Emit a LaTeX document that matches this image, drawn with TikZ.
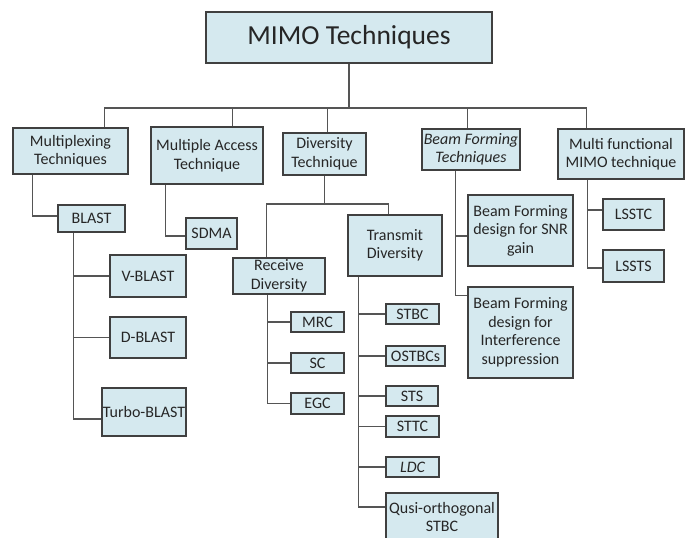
\documentclass[tikz,border=0pt]{standalone}
\usepackage{fontspec}
\setmainfont{Carlito}
\definecolor{boxfill}{HTML}{D5E9EF}
\definecolor{boxline}{HTML}{404040}
\definecolor{conn}{HTML}{555555}
\begin{document}
\begin{tikzpicture}[x=1pt,y=-1pt,
  box/.style={draw=boxline, fill=boxfill, line width=1.1pt, inner sep=0pt, align=center,
    font=\fontsize{16}{18.5}\selectfont, text=black!85},
  link/.style={draw=conn, line width=1.1pt}]
\useasboundingbox (0,0) rectangle (691,538);
% top level
\node[box, minimum width=286, minimum height=51, font=\fontsize{27.5}{30}\selectfont] (mimo) at (349,37.5) {MIMO Techniques};
\node[box, minimum width=115, minimum height=46] (mux) at (70.5,151) {Multiplexing\\Techniques};
\node[box, minimum width=112, minimum height=57] (ma) at (207,155.5) {Multiple Access\\Technique};
\node[box, minimum width=83, minimum height=42] (div) at (324.5,154) {Diversity\\Technique};
\node[box, minimum width=98, minimum height=41, font=\fontsize{16}{18.5}\selectfont\itshape] (bf) at (471,149.5) {Beam Forming\\Techniques};
\node[box, minimum width=126, minimum height=50] (mf) at (621,154) {Multi functional\\MIMO technique};
% multiplexing
\node[box, minimum width=67, minimum height=27] (blast) at (91.5,218.5) {BLAST};
\node[box, minimum width=76, minimum height=42] (vblast) at (148,276) {V-BLAST};
\node[box, minimum width=76, minimum height=41] (dblast) at (148,337.5) {D-BLAST};
\node[box, minimum width=84, minimum height=48] (tblast) at (144,412) {Turbo-BLAST};
% multiple access
\node[box, minimum width=51, minimum height=31] (sdma) at (211.5,233.5) {SDMA};
% diversity
\node[box, minimum width=92, minimum height=36] (rd) at (279,276) {Receive\\Diversity};
\node[box, minimum width=94, minimum height=61] (td) at (395,245.5) {Transmit\\Diversity};
\node[box, minimum width=53, minimum height=20] (mrc) at (317.5,322) {MRC};
\node[box, minimum width=53, minimum height=20] (sc) at (317.5,363) {SC};
\node[box, minimum width=53, minimum height=21] (egc) at (317.5,403.5) {EGC};
\node[box, minimum width=53, minimum height=20] (stbc) at (412.5,314) {STBC};
\node[box, minimum width=59, minimum height=20] (ostbc) at (415.5,356) {OSTBCs};
\node[box, minimum width=52, minimum height=20] (sts) at (412,396) {STS};
\node[box, minimum width=53, minimum height=21] (sttc) at (412.5,426.5) {STTC};
\node[box, minimum width=53, minimum height=20, font=\fontsize{16}{18.5}\selectfont\itshape] (ldc) at (412.5,467) {LDC};
\node[box, minimum width=112, minimum height=48] (qo) at (442,517) {Qusi-orthogonal\\STBC};
% beam forming
\node[box, minimum width=105, minimum height=71] (bfsnr) at (520.5,230.5) {Beam Forming\\design for SNR\\gain};
\node[box, minimum width=105, minimum height=91] (bfint) at (520.5,332.5) {Beam Forming\\design for\\Interference\\suppression};
% multi functional
\node[box, minimum width=61, minimum height=31] (lsstc) at (633.5,214.5) {LSSTC};
\node[box, minimum width=61, minimum height=32] (lssts) at (633.5,266) {LSSTS};

% connectors: top level
\coordinate (topj) at (349,108);
\draw[link] (mimo.south) -- (topj);
\draw[link] (topj) -| ([xshift=92pt]mux.north west);
\draw[link] (topj) -| ([xshift=82pt]ma.north west);
\draw[link] (topj) -| ([xshift=45pt]div.north west);
\draw[link] (topj) -| ([xshift=46pt]bf.north west);
\draw[link] (topj) -| ([xshift=29pt]mf.north west);
% multiplexing
\draw[link] ([xshift=20pt]mux.south west) |- ([yshift=2.5pt]blast.west);
\draw[link] ([xshift=16pt]blast.south west) |- (vblast.west);
\draw[link] ([xshift=16pt]blast.south west) |- (dblast.west);
\draw[link] ([xshift=16pt]blast.south west) |- ([yshift=-7pt]tblast.west);
% multiple access
\draw[link] ([xshift=15pt]ma.south west) |- ([yshift=-2.5pt]sdma.west);
% diversity
\coordinate (divj) at (324.5,204);
\draw[link] (div.south) -- (divj);
\draw[link] (divj) -| ([xshift=34pt]rd.north west);
\draw[link] (divj) -| ([xshift=41pt]td.north west);
\draw[link] ([xshift=35pt]rd.south west) |- (mrc.west);
\draw[link] ([xshift=35pt]rd.south west) |- (sc.west);
\draw[link] ([xshift=35pt]rd.south west) |- (egc.west);
\draw[link] ([xshift=11pt]td.south west) |- (stbc.west);
\draw[link] ([xshift=11pt]td.south west) |- (ostbc.west);
\draw[link] ([xshift=11pt]td.south west) |- (sts.west);
\draw[link] ([xshift=11pt]td.south west) |- (sttc.west);
\draw[link] ([xshift=11pt]td.south west) |- (ldc.west);
\draw[link] ([xshift=11pt]td.south west) |- ([yshift=10pt]qo.west);
% beam forming
\draw[link] ([xshift=34pt]bf.south west) |- ([yshift=-5.5pt]bfsnr.west);
\draw[link] ([xshift=34pt]bf.south west) |- ([yshift=-9pt]bfint.north west);
% multi functional
\draw[link] ([xshift=30pt]mf.south west) |- ([yshift=4.5pt]lsstc.west);
\draw[link] ([xshift=30pt]mf.south west) |- ([yshift=-2pt]lssts.west);
\end{tikzpicture}
\end{document}
